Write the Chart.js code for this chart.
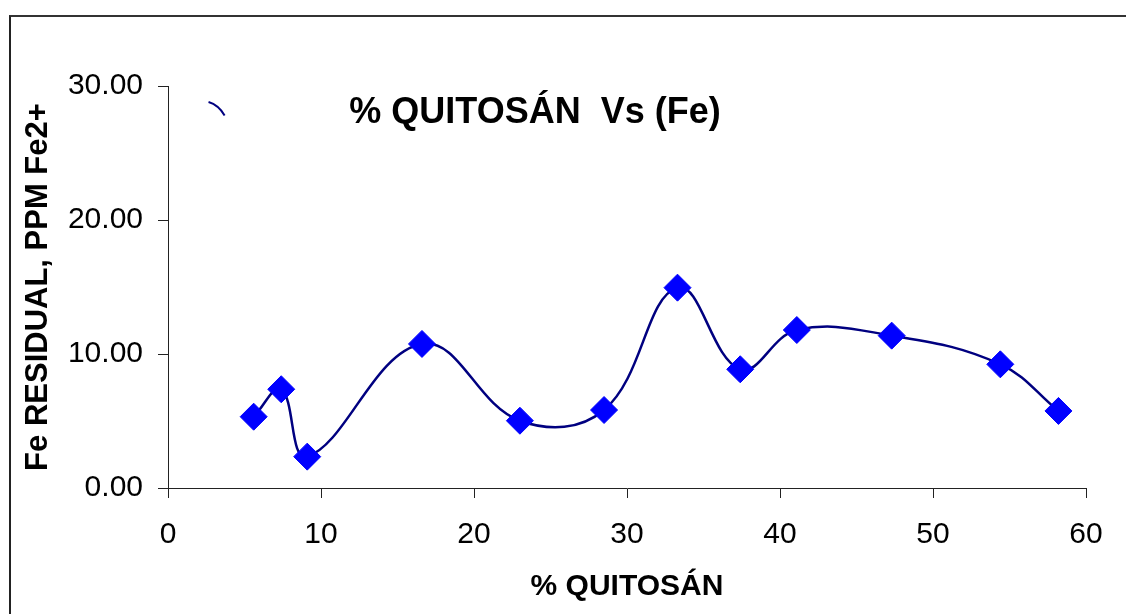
<!DOCTYPE html>
<html>
<head>
<meta charset="utf-8">
<script src="https://cdn.jsdelivr.net/npm/chart.js@4/dist/chart.umd.min.js"></script>
<style>
  html, body { margin: 0; padding: 0; background: #fff; overflow: hidden; }
  #frame {
    position: absolute; left: 9px; top: 15px; width: 1300px; height: 800px;
    border-left: 2px solid #222; border-top: 2px solid #333;
  }
  #wrap { position: absolute; left: 0; top: 0; width: 1126px; height: 614px; }
</style>
</head>
<body>
<div id="frame"></div>
<div id="wrap"><canvas id="chart"></canvas></div>
<script>
    // values
    const quitosan = [5.6, 7.4, 9.1, 16.6, 23.0, 28.5, 33.3, 37.4, 41.1, 47.3, 54.4, 58.2];
    const feResidual = [5.32, 7.37, 2.34, 10.75, 5.02, 5.82, 14.95, 8.86, 11.79, 11.37, 9.23, 5.75];
    const xTicks = [0, 10, 20, 30, 40, 50, 60];
    const yTicks = [0, 10, 20, 30];

    const chartTitle = '% QUITOSÁN  Vs (Fe)';
    const xTitle = '% QUITOSÁN';
    const yTitle = 'Fe RESIDUAL, PPM Fe2+';

    const FONT = "'Liberation Sans', Arial, sans-serif";

    const points = quitosan.map((x, i) => ({ x: x, y: feResidual[i] }));

    // title sits inside the plot area, plus the little stray stroke near the top
    const decorPlugin = {
        id: 'decor',
        afterDraw(chart) {
            const ctx = chart.ctx;
            const area = chart.chartArea;
            const xs = chart.scales.x;
            const ys = chart.scales.y;
            ctx.save();
            ctx.font = 'bold 36px ' + FONT;
            ctx.fillStyle = '#000';
            ctx.textAlign = 'center';
            ctx.textBaseline = 'middle';
            ctx.fillText(chartTitle, area.left + 367, area.top + 27);

            ctx.strokeStyle = '#000080';
            ctx.lineWidth = 2;
            ctx.beginPath();
            ctx.moveTo(xs.getPixelForValue(2.65), ys.getPixelForValue(28.8));
            ctx.quadraticCurveTo(xs.getPixelForValue(3.3), ys.getPixelForValue(28.58),
                                 xs.getPixelForValue(3.7), ys.getPixelForValue(27.8));
            ctx.stroke();
            ctx.restore();
        }
    };

    const ctx = document.getElementById('chart').getContext('2d');
    new Chart(ctx, {
        type: 'scatter',
        data: {
            datasets: [{
                label: 'Fe',
                data: points,
                showLine: true,
                tension: 0.4,
                borderColor: '#000080',
                borderWidth: 2.5,
                pointStyle: 'rectRot',
                pointRadius: 13.5,
                pointHoverRadius: 13.5,
                pointBackgroundColor: '#0000FF',
                pointBorderColor: '#0000FF',
                pointBorderWidth: 1
            }]
        },
        options: {
            responsive: true,
            maintainAspectRatio: false,
            animation: false,
            layout: { padding: { left: 0, right: 40, top: 86, bottom: 0 } },
            plugins: {
                legend: { display: false },
                tooltip: { enabled: false }
            },
            scales: {
                x: {
                    type: 'linear',
                    min: 0,
                    max: 60,
                    afterBuildTicks: (scale) => { scale.ticks = xTicks.map(v => ({ value: v })); },
                    afterFit: (scale) => { scale.height = 126; },
                    grid: { drawOnChartArea: false, tickLength: 10, color: '#222', lineWidth: 1 },
                    border: { display: true, color: '#222', width: 1 },
                    ticks: { color: '#000', padding: 19, font: { family: FONT, size: 30 } },
                    title: {
                        display: true, text: xTitle, color: '#000',
                        padding: { top: 0, bottom: 9 },
                        font: { family: FONT, size: 30, weight: 'bold' }
                    }
                },
                y: {
                    type: 'linear',
                    min: 0,
                    max: 30,
                    afterBuildTicks: (scale) => { scale.ticks = yTicks.map(v => ({ value: v })); },
                    afterFit: (scale) => { scale.width = 168; },
                    grid: { drawOnChartArea: false, tickLength: 10, color: '#222', lineWidth: 1 },
                    border: { display: true, color: '#222', width: 1 },
                    ticks: {
                        color: '#000', padding: 15, font: { family: FONT, size: 30 },
                        callback: (v) => Number(v).toFixed(2)
                    },
                    title: {
                        display: true, text: yTitle, color: '#000',
                        padding: { top: 20, bottom: 0 },
                        font: { family: FONT, size: 31, weight: 'bold' }
                    }
                }
            }
        },
        plugins: [decorPlugin]
    });
</script>
</body>
</html>
